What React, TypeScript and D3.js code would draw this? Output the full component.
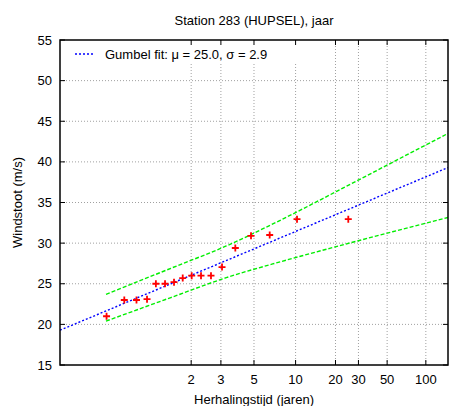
import React from "react";
import * as d3 from "d3";

// ---- data ----
const titleText = "Station 283 (HUPSEL), jaar";
const xLabel = "Herhalingstijd (jaren)";
const yLabel = "Windstoot (m/s)";
const legendText = "Gumbel fit: \u03bc = 25.0, \u03c3 = 2.9";

const returnPeriodTicks = [2, 3, 5, 10, 20, 30, 50, 100];
const windTicks = [15, 20, 25, 30, 35, 40, 45, 50, 55];

// observed annual maxima: Gumbel reduced variate (x) and gust (m/s)
const pointVariate = [-1.16, -0.84, -0.62, -0.43, -0.27, -0.105, 0.057, 0.214, 0.376, 0.544, 0.724, 0.923, 1.163, 1.446, 1.783, 2.276, 3.201];
const pointGust = [21.0, 23.0, 23.0, 23.1, 25.0, 25.0, 25.2, 25.7, 26.0, 26.0, 26.0, 27.05, 29.4, 30.9, 31.0, 32.95, 32.95];

// Gumbel fit
const gumbelMu = 25.0;
const gumbelSigma = 2.86;

// confidence bands (reduced variate, gust)
const bandVariate = [-1.17, 0, 1, 2, 3, 4, 5];
const upperBand = [23.7, 26.9, 29.65, 32.9, 36.4, 39.95, 43.5];
const lowerBand = [20.4, 23.3, 25.75, 27.75, 29.6, 31.4, 33.15];

const reducedVariate = (T: number) => -Math.log(-Math.log(1 - 1 / T));

const W = 449, H = 406;
const L = 60, R = 448, T0 = 40, B = 365;
const FONT = "'Liberation Sans', Arial, sans-serif";

export default function App() {
  const x = d3.scaleLinear().domain([-2, 5]).range([L, R]);
  const y = d3.scaleLinear().domain([15, 55]).range([B, T0]);

  const bandLine = d3
    .line<[number, number]>()
    .x((d) => x(d[0]))
    .y((d) => y(d[1]))
    .curve(d3.curveMonotoneX);

  const upperPts = bandVariate.map((v, i) => [v, upperBand[i]] as [number, number]);
  const lowerPts = bandVariate.map((v, i) => [v, lowerBand[i]] as [number, number]);
  const fitPts: [number, number][] = x.domain().map((v) => [v, gumbelMu + gumbelSigma * v]);
  const fitLine = d3.line<[number, number]>().x((d) => x(d[0])).y((d) => y(d[1]));

  const tick = 5;
  const gridStyle = { stroke: "#a0a0a0", strokeWidth: 1, strokeDasharray: "1,2" };

  return (
    <div style={{ position: "fixed", left: 0, top: 0, width: W, height: H, background: "#fff" }}>
      <svg width={W} height={H} style={{ display: "block" }} fontFamily={FONT}>
        <defs>
          <clipPath id="plotclip">
            <rect x={L} y={T0} width={R - L} height={B - T0} />
          </clipPath>
        </defs>
        <rect x={0} y={0} width={W} height={H} fill="#fff" />

        {/* grid */}
        {windTicks.slice(1, -1).map((v) => (
          <line key={"gy" + v} x1={L} x2={R} y1={y(v)} y2={y(v)} {...gridStyle} />
        ))}
        {returnPeriodTicks.map((t) => (
          <line key={"gx" + t} x1={x(reducedVariate(t))} x2={x(reducedVariate(t))} y1={B} y2={T0} {...gridStyle} />
        ))}

        {/* opaque key box */}
        <rect x={L + 1} y={T0 + 1} width={250} height={21} fill="#fff" />

        {/* ticks */}
        {windTicks.map((v) => (
          <g key={"ty" + v}>
            <line x1={L} x2={L + tick} y1={y(v)} y2={y(v)} stroke="#000" strokeWidth={1} />
            <line x1={R} x2={R - tick} y1={y(v)} y2={y(v)} stroke="#000" strokeWidth={1} />
            <text x={L - 8} y={y(v)} dy="0.35em" textAnchor="end" fontSize={13}>
              {v}
            </text>
          </g>
        ))}
        {returnPeriodTicks.map((t) => {
          const px = x(reducedVariate(t));
          return (
            <g key={"tx" + t}>
              <line x1={px} x2={px} y1={B} y2={B - tick} stroke="#000" strokeWidth={1} />
              <line x1={px} x2={px} y1={T0} y2={T0 + tick} stroke="#000" strokeWidth={1} />
              <text x={px} y={383.5} textAnchor="middle" fontSize={13}>
                {t}
              </text>
            </g>
          );
        })}

        {/* data */}
        <g clipPath="url(#plotclip)">
          <path d={fitLine(fitPts) || ""} fill="none" stroke="#0000ff" strokeWidth={1.4} strokeDasharray="2,2" />
          <path d={bandLine(upperPts) || ""} fill="none" stroke="#00ee00" strokeWidth={1.4} strokeDasharray="4,2" />
          <path d={bandLine(lowerPts) || ""} fill="none" stroke="#00ee00" strokeWidth={1.4} strokeDasharray="4,2" />
          {pointVariate.map((v, i) => {
            const cx = x(v);
            const cy = y(pointGust[i]);
            return (
              <path
                key={"p" + i}
                d={`M${cx - 3.5},${cy}H${cx + 3.5}M${cx},${cy - 3.5}V${cy + 3.5}`}
                stroke="#ff0000"
                strokeWidth={1.8}
                fill="none"
              />
            );
          })}
        </g>

        {/* legend */}
        <line x1={75} x2={95} y1={54} y2={54} stroke="#0000ff" strokeWidth={1.4} strokeDasharray="2,2" />
        <text x={105} y={54} dy="0.35em" fontSize={13}>
          {legendText}
        </text>

        {/* border */}
        <rect x={L} y={T0} width={R - L} height={B - T0} fill="none" stroke="#000" strokeWidth={1.5} />

        {/* titles */}
        <text x={(L + R) / 2} y={25} textAnchor="middle" fontSize={13}>
          {titleText}
        </text>
        <text x={(L + R) / 2} y={404} textAnchor="middle" fontSize={13}>
          {xLabel}
        </text>
        <text
          transform={`translate(22,${(T0 + B) / 2}) rotate(-90)`}
          textAnchor="middle"
          fontSize={13}
        >
          {yLabel}
        </text>
      </svg>
    </div>
  );
}
